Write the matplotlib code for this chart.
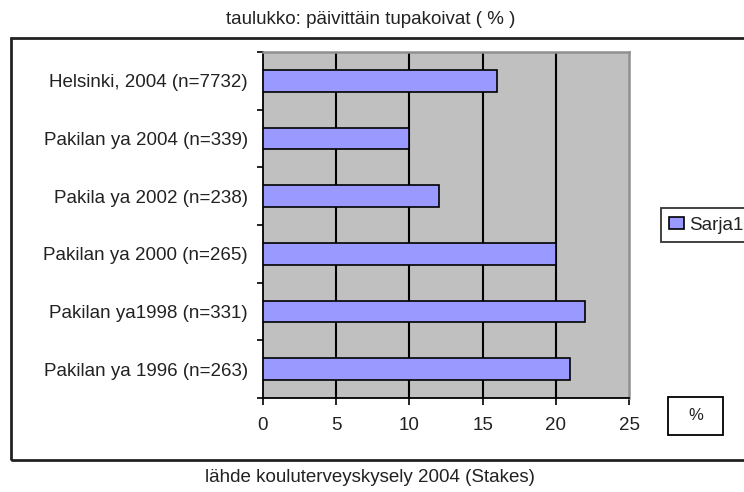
import matplotlib
matplotlib.use("Agg")
import matplotlib.pyplot as plt
from matplotlib.patches import Rectangle
import numpy as np

categories = [
    "Helsinki, 2004 (n=7732)",
    "Pakilan ya 2004 (n=339)",
    "Pakila ya 2002 (n=238)",
    "Pakilan ya 2000 (n=265)",
    "Pakilan ya1998 (n=331)",
    "Pakilan ya 1996 (n=263)",
]
values = [16, 10, 12, 20, 22, 21]
series_name = "Sarja1"
x_ticks = [0, 5, 10, 15, 20, 25]
title = "taulukko: päivittäin tupakoivat ( % )"
caption = "lähde kouluterveyskysely 2004 (Stakes)"
unit_label = "%"

plt.rcParams['font.family'] = ['Liberation Sans', 'DejaVu Sans']

W, H = 744, 492
fig = plt.figure(figsize=(W / 100, H / 100), dpi=100)

def fx(px):
    return px / W

def fy(py):
    return 1 - py / H

# outer frame
fig.patches.append(Rectangle((fx(11), fy(460)), fx(800) - fx(11), fy(38) - fy(460),
                             transform=fig.transFigure, fill=False,
                             edgecolor='#222222', linewidth=2.0, zorder=0))

ax = fig.add_axes([fx(263), fy(398), fx(629) - fx(263), fy(52) - fy(398)])
ax.set_facecolor('#C0C0C0')

n = len(categories)
ypos = np.arange(n)[::-1]
bars = ax.barh(ypos, values, height=0.38, color='#9999FF', edgecolor='black',
               linewidth=1.2, zorder=3, label=series_name)

ax.set_xlim(0, 25)
ax.set_ylim(-0.5, n - 0.5)
ax.set_xticks(x_ticks)
ax.set_xticklabels([str(t) for t in x_ticks], fontsize=13.5, color='#222222')
ax.tick_params(axis='x', direction='out', length=5, width=1.2, pad=9, color='black')

ax.set_yticks(ypos)
ax.set_yticklabels(categories, fontsize=13.5, color='#222222')
ax.tick_params(axis='y', which='major', length=0, pad=11)
ax.set_yticks(np.arange(-0.5, n, 1.0), minor=True)
ax.tick_params(axis='y', which='minor', direction='out', length=4, width=1.2, color='black')

for v in x_ticks[1:-1]:
    ax.axvline(v, color='black', linewidth=1.5, zorder=2)

ax.spines['left'].set_color('black')
ax.spines['left'].set_linewidth(1.3)
ax.spines['bottom'].set_color('black')
ax.spines['bottom'].set_linewidth(1.3)
ax.spines['top'].set_color('#909090')
ax.spines['top'].set_linewidth(1.8)
ax.spines['right'].set_color('#909090')
ax.spines['right'].set_linewidth(1.8)

leg = fig.legend(handles=[bars], labels=[series_name], loc='center left',
                 bbox_to_anchor=(fx(661), fy(225)), bbox_transform=fig.transFigure,
                 fontsize=13.5, frameon=True, fancybox=False, shadow=False,
                 handlelength=0.75, handleheight=0.6, handletextpad=0.3,
                 borderpad=0.45, borderaxespad=0)
leg.get_frame().set_edgecolor('black')
leg.get_frame().set_linewidth(1.3)
for t in leg.get_texts():
    t.set_color('#222222')

# unit box
fig.patches.append(Rectangle((fx(668), fy(435)), fx(723) - fx(668), fy(397) - fy(435),
                             transform=fig.transFigure, fill=False,
                             edgecolor='black', linewidth=1.3))
fig.text(fx(695.5), fy(416), unit_label, ha='center', va='center', fontsize=12,
         color='#222222')

fig.text(fx(371), fy(20), title, ha='center', va='center', fontsize=13.5, color='#222222')
fig.text(fx(370), fy(478), caption, ha='center', va='center', fontsize=13.5, color='#222222')

fig.savefig("out.png", dpi=100)
